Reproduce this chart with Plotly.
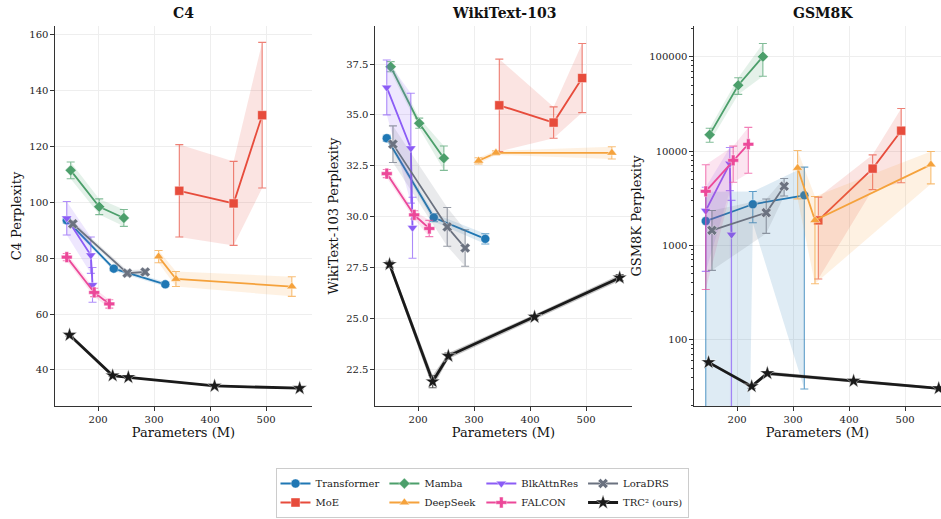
import plotly.graph_objects as go

# ---------------- data ----------------
series_names = ["Transformer", "MoE", "Mamba", "DeepSeek", "BlkAttnRes", "FALCON", "LoraDRS", "TRC² (ours)"]

x_transformer = [144, 228, 320]
x_moe = [345, 442, 493]
x_mamba = [151, 202, 246]
x_deepseek = [308, 339, 546]
x_blkattnres = [144, 187, 190]
x_falcon = [144, 193, 220]
x_loradrs = [155, 252, 284]
x_trc = [149, 226, 254, 408, 560]

# C4 perplexity (mean, error)
c4_transformer = [93.5, 76.2, 70.6]
c4_transformer_err = [1.0, 0.8, 0.8]
c4_moe = [104.0, 99.5, 131.0]
c4_moe_err = [16.5, 15.0, 26.0]
c4_mamba = [111.3, 98.3, 94.3]
c4_mamba_err = [3.0, 2.8, 3.0]
c4_deepseek = [80.5, 72.5, 69.8]
c4_deepseek_err = [2.2, 2.7, 3.5]
c4_blkattnres = [94.2, 81.0, 70.4]
c4_blkattnres_err = [6.0, 6.5, 6.2]
c4_falcon = [80.3, 67.7, 63.6]
c4_falcon_err = [1.3, 1.5, 1.5]
c4_loradrs = [92.2, 74.6, 75.0]
c4_loradrs_err = [1.0, 1.0, 1.0]
c4_trc = [52.5, 38.0, 37.4, 34.3, 33.5]
c4_trc_err = [0.4, 0.3, 0.3, 0.3, 0.3]

# WikiText-103 perplexity
wt_transformer = [33.85, 29.95, 28.9]
wt_transformer_err = [0.15, 0.2, 0.25]
wt_moe = [35.47, 34.62, 36.81]
wt_moe_err = [2.27, 0.77, 1.7]
wt_mamba = [37.37, 34.59, 32.87]
wt_mamba_err = [0.25, 0.25, 0.6]
wt_deepseek = [32.74, 33.13, 33.13]
wt_deepseek_err = [0.15, 0.1, 0.3]
wt_blkattnres = [36.35, 33.36, 29.45]
wt_blkattnres_err = [1.35, 2.7, 1.5]
wt_falcon = [32.11, 30.08, 29.41]
wt_falcon_err = [0.2, 0.2, 0.4]
wt_loradrs = [33.56, 29.49, 28.45]
wt_loradrs_err = [0.9, 0.95, 0.9]
wt_trc = [27.65, 21.88, 23.14, 25.06, 26.99]
wt_trc_err = [0.15, 0.3, 0.15, 0.12, 0.15]

# GSM8K perplexity
gsm_transformer = [1810, 2725, 3390]
gsm_transformer_err = [1900, 990, 3360]
gsm_moe = [1840, 6500, 16400]
gsm_moe_err = [1400, 2600, 11800]
gsm_mamba = [14900, 49800, 100000]
gsm_mamba_err = [2500, 10000, 38000]
gsm_deepseek = [6610, 1842, 7180]
gsm_deepseek_err = [3500, 1450, 2700]
gsm_blkattnres = [2330, 7350, 1300]
gsm_blkattnres_err = [1800, 3550, 1700]
gsm_falcon = [3740, 7960, 11800]
gsm_falcon_err = [3400, 3300, 6000]
gsm_loradrs = [1443, 2220, 4230]
gsm_loradrs_err = [900, 880, 890]
gsm_trc = [57.5, 32, 44, 36.5, 30.5]
gsm_trc_err = [2, 1.5, 2, 1.5, 1]

x_ticks = [200, 300, 400, 500]
c4_ticks = [40, 60, 80, 100, 120, 140, 160]
wt_ticks = [22.5, 25.0, 27.5, 30.0, 32.5, 35.0, 37.5]
gsm_ticks = [100, 1000, 10000, 100000]
gsm_tick_labels = ["100", "1000", "10000", "100000"]

# ---------------- style ----------------
colors = ["#1f77b4", "#e74c3c", "#4c9f6b", "#f5a23c", "#8b5cf6", "#ec4899", "#6b7280", "#1a1a1a"]
symbols = ["circle", "square", "diamond", "triangle-up", "triangle-down", "cross", "x", "star"]
msizes = [9, 9, 8.5, 9, 9, 9, 9, 11]
lwidths = [1.8, 1.8, 1.8, 1.8, 1.8, 1.8, 1.8, 2.8]
groups = ["g1", "g1", "g2", "g2", "g3", "g3", "g4", "g4"]

xs = [x_transformer, x_moe, x_mamba, x_deepseek, x_blkattnres, x_falcon, x_loradrs, x_trc]
panels = [
    ([c4_transformer, c4_moe, c4_mamba, c4_deepseek, c4_blkattnres, c4_falcon, c4_loradrs, c4_trc],
     [c4_transformer_err, c4_moe_err, c4_mamba_err, c4_deepseek_err, c4_blkattnres_err,
      c4_falcon_err, c4_loradrs_err, c4_trc_err], False),
    ([wt_transformer, wt_moe, wt_mamba, wt_deepseek, wt_blkattnres, wt_falcon, wt_loradrs, wt_trc],
     [wt_transformer_err, wt_moe_err, wt_mamba_err, wt_deepseek_err, wt_blkattnres_err,
      wt_falcon_err, wt_loradrs_err, wt_trc_err], False),
    ([gsm_transformer, gsm_moe, gsm_mamba, gsm_deepseek, gsm_blkattnres, gsm_falcon, gsm_loradrs, gsm_trc],
     [gsm_transformer_err, gsm_moe_err, gsm_mamba_err, gsm_deepseek_err, gsm_blkattnres_err,
      gsm_falcon_err, gsm_loradrs_err, gsm_trc_err], True),
]


def rgba(hexc, a):
    h = hexc.lstrip("#")
    r, g, b = int(h[0:2], 16), int(h[2:4], 16), int(h[4:6], 16)
    return f"rgba({r},{g},{b},{a})"


W, H = 941, 519
FONT = "DejaVu Serif"
fig = go.Figure()

for p, (ys, errs, is_log) in enumerate(panels):
    xa = "x" if p == 0 else f"x{p + 1}"
    ya = "y" if p == 0 else f"y{p + 1}"
    for i in range(len(series_names)):
        x = xs[i]
        y = ys[i]
        e = errs[i]
        upper = [v + d for v, d in zip(y, e)]
        lower = [v - d for v, d in zip(y, e)]
        if is_log:
            lower = [v if v > 0 else 1e-30 for v in lower]
        fig.add_trace(go.Scatter(
            x=x + x[::-1], y=upper + lower[::-1], xaxis=xa, yaxis=ya,
            fill="toself", fillcolor=rgba(colors[i], 0.15 if i < 7 else 0.25),
            line=dict(width=0), mode="lines", hoverinfo="skip", showlegend=False,
        ))
        fig.add_trace(go.Scatter(
            x=x, y=y, xaxis=xa, yaxis=ya, mode="lines+markers",
            name=series_names[i], legendgroup=groups[i], showlegend=(p == 0),
            line=dict(color=colors[i], width=lwidths[i]),
            marker=dict(symbol=symbols[i], size=msizes[i], color=colors[i],
                        line=dict(color="rgba(255,255,255,0.7)", width=0.6)),
            error_y=dict(type="data", array=e, visible=True, color=rgba(colors[i], 0.7),
                         thickness=1.1, width=4),
        ))

# ---------------- layout ----------------
plot_top, plot_bot = 26, 406
ydom = [1 - plot_bot / H, 1 - plot_top / H]
xdoms = [[55 / W, 312 / W], [375 / W, 632 / W], [694 / W, 1.0]]

axis_common = dict(
    automargin=False,
    showline=True, linecolor="#333333", linewidth=1.1, mirror=False,
    ticks="outside", ticklen=3.5, tickwidth=1, tickcolor="#333333",
    showgrid=True, gridcolor="#eeeeee", gridwidth=0.8, zeroline=False,
    tickfont=dict(family=FONT, size=10, color="#222222"),
)

xranges = [[123, 582], [123, 582], [123, 123 + (941 - 694) / 0.56]]
for p in range(3):
    key = "xaxis" if p == 0 else f"xaxis{p + 1}"
    fig.layout[key] = dict(
        axis_common, domain=xdoms[p], range=xranges[p], anchor="y" if p == 0 else f"y{p + 1}",
        tickmode="array", tickvals=x_ticks,
        title=dict(text="Parameters (M)", font=dict(family=FONT, size=13, color="#111111"), standoff=4),
    )

fig.layout["yaxis"] = dict(
    axis_common, domain=ydom, anchor="x", range=[27.14, 162.86],
    tickmode="array", tickvals=c4_ticks,
    title=dict(text="C4 Perplexity", font=dict(family=FONT, size=13, color="#111111"), standoff=4),
)
fig.layout["yaxis2"] = dict(
    axis_common, domain=ydom, anchor="x2", range=[20.68, 39.37],
    tickmode="array", tickvals=wt_ticks, tickformat=".1f",
    title=dict(text="WikiText-103 Perplexity", font=dict(family=FONT, size=13, color="#111111"), standoff=4),
)
minor_vals = [m * 10 ** k for k in range(1, 6) for m in range(2, 10)]
fig.layout["yaxis3"] = dict(
    axis_common, domain=ydom, anchor="x3", type="log", range=[1.297, 5.325],
    tickmode="array", tickvals=gsm_ticks, ticktext=gsm_tick_labels,
    minor=dict(tickmode="array", tickvals=minor_vals, ticks="outside", ticklen=2,
               tickcolor="#333333", showgrid=False),
    title=dict(text="GSM8K Perplexity", font=dict(family=FONT, size=13, color="#111111"), standoff=4),
)

titles = [("C4", (55 + 312) / 2), ("WikiText-103", (375 + 632) / 2), ("GSM8K", 823)]
for t, cx in titles:
    fig.add_annotation(text=f"<b>{t}</b>", x=cx / W, y=1 - 12.7 / H, xref="paper", yref="paper",
                       xanchor="center", yanchor="middle", showarrow=False,
                       font=dict(family=FONT, size=14, color="#111111"))

fig.update_layout(
    template="none",
    width=W, height=H, margin=dict(l=0, r=0, t=0, b=0, pad=0, autoexpand=False),
    paper_bgcolor="white", plot_bgcolor="white",
    font=dict(family=FONT, size=10, color="#222222"),
    legend=dict(
        orientation="h", traceorder="grouped", x=482 / W, xanchor="center",
        y=1 - 518 / H, yanchor="bottom", bordercolor="#cccccc", borderwidth=1,
        font=dict(family=FONT, size=10, color="#222222"), bgcolor="white",
        itemwidth=30,
    ),
)

fig.write_html(
    "out.html",
    config={"displayModeBar": False},
    post_script="document.body.style.margin='0';document.body.style.overflow='hidden';",
)
